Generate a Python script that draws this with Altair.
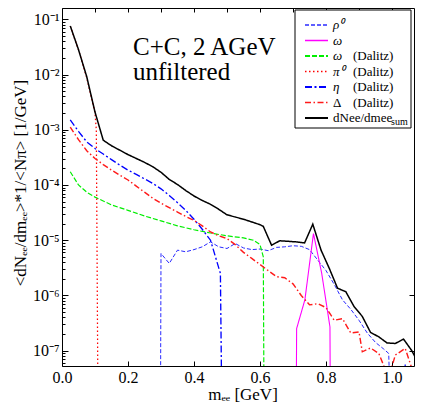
import json
import altair as alt
import pandas as pd

SERIF = "Liberation Serif"

# ---------------- series (legend order) ----------------
names = ["ρ⁰", "ω", "ω (Dalitz)", "π⁰ (Dalitz)", "η (Dalitz)", "Δ (Dalitz)", "dNee/dmee_sum"]
leg_main = ["ρ⁰", "ω", "ω", "π⁰", "η", "Δ", "dNee/dmee"]
leg_suffix = ["", "", "(Dalitz)", "(Dalitz)", "(Dalitz)", "(Dalitz)", ""]
leg_sub = ["", "", "", "", "", "", "sum"]
leg_italic = [True, True, True, True, True, False, False]
colors = ["#2a2aff", "#ff00ff", "#00ee00", "#ff0000", "#0000ff", "#ff1a1a", "#000000"]
dashes = [[4, 2], [1, 0], [5, 2], [1.5, 2.5], [7, 2.5, 2, 2.5], [6, 2.5, 1.5, 2.5], [1, 0]]
widths = [1.0, 1.5, 1.8, 1.6, 1.8, 1.0, 2.0]

# ---------------- data ----------------
rho_x = [0.298, 0.30, 0.325, 0.35, 0.375, 0.4, 0.425, 0.45, 0.475, 0.5, 0.525, 0.55, 0.575,
         0.6, 0.625, 0.65, 0.675, 0.7, 0.725, 0.75, 0.775, 0.8, 0.825, 0.85, 0.875, 0.9,
         0.925, 0.95, 0.975, 0.99, 1.0, 1.03, 1.04, 1.05]
rho_y = [1e-9, 5.75e-6, 3.80e-6, 6.61e-6, 6.17e-6, 6.76e-6, 7.59e-6, 9.33e-6, 7.59e-6, 7.08e-6,
         8.71e-6, 7.24e-6, 6.76e-6, 6.92e-6, 6.46e-6, 7.41e-6, 7.59e-6, 7.94e-6, 7.76e-6, 6.76e-6,
         4.37e-6, 2.82e-6, 1.58e-6, 8.32e-7, 5.62e-7, 3.55e-7, 2.09e-7, 1.41e-7, 1.07e-7, 8.91e-8,
         1e-9, 1e-9, 5.6e-8, 1e-9]

omega_x = [0.709, 0.711, 0.736, 0.762, 0.787, 0.812, 0.814]
omega_y = [1e-9, 2.51e-7, 8.32e-7, 1.32e-5, 2.51e-6, 2.69e-7, 1e-9]

omegad_x = [0.025, 0.05, 0.075, 0.1, 0.125, 0.15, 0.175, 0.2, 0.25, 0.3, 0.35, 0.4, 0.45,
            0.5, 0.55, 0.58, 0.6, 0.61, 0.613]
omegad_y = [1.74e-4, 1.0e-4, 7.41e-5, 6.03e-5, 5.13e-5, 4.37e-5, 3.89e-5, 3.47e-5, 2.75e-5,
            2.24e-5, 1.82e-5, 1.55e-5, 1.35e-5, 1.20e-5, 1.10e-5, 1.0e-5, 8.32e-6, 5.01e-6, 1e-9]

pi0_x = [0.025, 0.05, 0.075, 0.1, 0.104, 0.11]
pi0_y = [7.5e-2, 2.8e-2, 8.7e-3, 2.0e-3, 1.0e-3, 1e-9]

eta_x = [0.025, 0.05, 0.075, 0.1, 0.125, 0.15, 0.175, 0.2, 0.225, 0.25, 0.275, 0.3, 0.325,
         0.35, 0.375, 0.4, 0.425, 0.45, 0.465, 0.475, 0.48, 0.486]
eta_y = [1.51e-3, 9.33e-4, 6.03e-4, 4.57e-4, 3.63e-4, 2.88e-4, 2.29e-4, 1.86e-4, 1.55e-4,
         1.29e-4, 1.07e-4, 8.51e-5, 6.46e-5, 4.79e-5, 3.47e-5, 2.40e-5, 1.58e-5, 1.0e-5,
         5.01e-6, 3.16e-6, 2.51e-6, 1e-9]

delta_x = [0.025, 0.05, 0.075, 0.1, 0.125, 0.15, 0.175, 0.2, 0.225, 0.25, 0.275, 0.3, 0.325,
           0.35, 0.375, 0.4, 0.425, 0.45, 0.475, 0.5, 0.525, 0.55, 0.575, 0.6, 0.625, 0.65,
           0.675, 0.7, 0.725, 0.75, 0.775, 0.8, 0.825, 0.85, 0.875, 0.9, 0.91, 0.935, 0.96,
           0.99, 1.01, 1.04, 1.07]
delta_y = [1.12e-3, 6.61e-4, 4.17e-4, 3.02e-4, 2.34e-4, 1.86e-4, 1.51e-4, 1.23e-4, 9.55e-5,
           7.41e-5, 5.75e-5, 4.68e-5, 3.89e-5, 3.24e-5, 2.69e-5, 2.29e-5, 1.82e-5, 1.41e-5,
           1.20e-5, 1.07e-5, 8.32e-6, 6.03e-6, 4.68e-6, 3.63e-6, 2.82e-6, 2.19e-6, 2.09e-6,
           1.62e-6, 1.0e-6, 6.76e-7, 7.08e-7, 6.03e-7, 3.55e-7, 3.80e-7, 2.09e-7, 2.19e-7,
           9.55e-8, 1.12e-7, 8.91e-8, 3.2e-8, 8.32e-8, 1.10e-7, 3.2e-8]

sum_x = [0.025, 0.05, 0.075, 0.1, 0.125, 0.15, 0.175, 0.2, 0.225, 0.25, 0.275, 0.3, 0.325,
         0.35, 0.375, 0.4, 0.425, 0.45, 0.475, 0.5, 0.525, 0.55, 0.575, 0.6, 0.61, 0.635,
         0.66, 0.685, 0.71, 0.735, 0.76, 0.785, 0.81, 0.835, 0.86, 0.885, 0.91, 0.935, 0.96,
         0.985, 1.01, 1.035, 1.06, 1.085]
sum_y = [7.59e-2, 2.82e-2, 9.12e-3, 2.09e-3, 6.46e-4, 5.13e-4, 4.27e-4, 3.55e-4, 3.02e-4,
         2.57e-4, 2.14e-4, 1.70e-4, 1.26e-4, 1.02e-4, 7.94e-5, 6.31e-5, 5.25e-5, 4.47e-5,
         3.63e-5, 2.88e-5, 2.63e-5, 2.40e-5, 2.14e-5, 1.91e-5, 1.78e-5, 8.13e-6, 9.77e-6,
         9.55e-6, 9.33e-6, 8.91e-6, 1.95e-5, 6.61e-6, 3.09e-6, 1.35e-6, 1.17e-6, 6.31e-7,
         4.17e-7, 2.14e-7, 1.78e-7, 1.38e-7, 1.35e-7, 1.62e-7, 1.0e-7, 5.25e-8]

series_data = [(rho_x, rho_y), (omega_x, omega_y), (omegad_x, omegad_y), (pi0_x, pi0_y),
               (eta_x, eta_y), (delta_x, delta_y), (sum_x, sum_y)]

anno_lines = ["C+C, 2 AGeV", "unfiltered"]
x_title = "mₑₑ [GeV]"
y_title = "<dNₑₑ/dmₑₑ>*1/<Nπ> [1/GeV]"
xlabel_vals = [0.0, 0.2, 0.4, 0.6, 0.8, 1.0]
xtop_vals = [0.0, 0.1, 0.2, 0.3, 0.4, 0.5, 0.6, 0.7, 0.8, 0.9, 1.0]
exp_labels = ["10⁰", "10⁻¹", "10⁻²", "10⁻³", "10⁻⁴", "10⁻⁵", "10⁻⁶", "10⁻⁷", "10⁻⁸"]

# ---------------- layout ----------------
W, H = 352, 358
PX_PER_GEV = 330
XMAX = W / PX_PER_GEV
YMIN, YMAX = 5.28e-8, 0.16

rows = []
for name, (xs, ys) in zip(names, series_data):
    for x, y in zip(xs, ys):
        rows.append({"series": name, "m": x, "v": y})
df = pd.DataFrame(rows)

ytick_vals = []
for e in range(-8, 0):
    for mant in range(1, 10):
        val = float(f"{mant}e{e}")
        if YMIN <= val <= YMAX:
            ytick_vals.append(val)
ymajor_vals = [v for v in ytick_vals if str(v).startswith("1e")]

MAJOR = "abs(log(datum.value)/LN10 - round(log(datum.value)/LN10)) < 0.01"
ylabel_expr = (f"{MAJOR} ? {json.dumps(exp_labels, ensure_ascii=False)}"
               f"[-round(log(datum.value)/LN10)] : ''")

xscale = alt.Scale(domain=[0, XMAX], nice=False, zero=False)
yscale = alt.Scale(type="log", domain=[YMIN, YMAX], nice=False)

axis_bottom = alt.Axis(orient="bottom", values=xlabel_vals, offset=-5, tickSize=5, domain=False,
                       grid=False, tickColor="black", labelExpr="format(datum.value, '.1f')",
                       labelFlush=False, labelOverlap=False, labelPadding=3, labelFont=SERIF,
                       labelFontSize=16, labelColor="black", title=None)
axis_left = alt.Axis(orient="left", values=ytick_vals, offset=-6, tickSize=6, domain=False,
                     grid=False, tickColor="black",
                     tickDash={"condition": {"test": MAJOR, "value": [6, 0]}, "value": [0, 3, 3]},
                     labelExpr=ylabel_expr, labelOverlap=False, labelPadding=3, labelFont=SERIF,
                     labelFontSize=16, labelColor="black", title=None)
axis_top = alt.Axis(orient="top", values=xtop_vals, offset=-4, tickSize=4, domain=False,
                    grid=False, tickColor="black", labels=False, title=None)
axis_right = alt.Axis(orient="right", values=ymajor_vals, offset=-5, tickSize=5, domain=False,
                      grid=False, tickColor="black", labels=False, title=None)

lines = alt.Chart(df).mark_line(clip=True).encode(
    x=alt.X("m:Q", scale=xscale, axis=axis_bottom),
    y=alt.Y("v:Q", scale=yscale, axis=axis_left),
    color=alt.Color("series:N", scale=alt.Scale(domain=names, range=colors), legend=None),
    strokeDash=alt.StrokeDash("series:N", scale=alt.Scale(domain=names, range=dashes), legend=None),
    strokeWidth=alt.StrokeWidth("series:N", scale=alt.Scale(domain=names, range=widths), legend=None),
)

frame = alt.Chart(df).mark_point(opacity=0).encode(
    x=alt.X("m:Q", axis=axis_top),
    y=alt.Y("v:Q", axis=axis_right),
)

one = pd.DataFrame({"k": [0]})
ann_layers = []
for j, line in enumerate(anno_lines):
    ann_layers.append(alt.Chart(one).mark_text(
        text=line, align="left", baseline="alphabetic", font=SERIF, fontSize=25,
        color="black").encode(x=alt.value(71), y=alt.value(47 + 25 * j)))
ytitle = alt.Chart(one).mark_text(text=y_title, angle=270, align="center", baseline="middle",
                                  font=SERIF, fontSize=17, color="black").encode(
    x=alt.value(-41), y=alt.value(175))
xtitle = alt.Chart(one).mark_text(text=x_title, align="center", baseline="alphabetic",
                                  font=SERIF, fontSize=17, color="black").encode(
    x=alt.value(181), y=alt.value(392))

# ---------------- hand-drawn legend box ----------------
LX0, LX1, LY0, LY1 = 233, 349, 2, 120
SYM0, SYM1, TXT0, SUF0 = 243, 266, 271, 291
ROW0, ROWH = 17, 15.5
legend_layers = [alt.Chart(one).mark_rect(fill="white", stroke="black", strokeWidth=1).encode(
    x=alt.value(LX0), x2=alt.value(LX1), y=alt.value(LY0), y2=alt.value(LY1))]
for i in range(len(names)):
    yy = ROW0 + i * ROWH
    legend_layers.append(alt.Chart(one).mark_rule(
        color=colors[i], strokeDash=dashes[i], strokeWidth=max(widths[i], 1.5)).encode(
        x=alt.value(SYM0), x2=alt.value(SYM1), y=alt.value(yy)))
    legend_layers.append(alt.Chart(one).mark_text(
        text=leg_main[i], align="left", baseline="middle", font=SERIF, fontSize=13,
        fontStyle="italic" if leg_italic[i] else "normal", color="black").encode(
        x=alt.value(TXT0), y=alt.value(yy)))
    if leg_suffix[i]:
        legend_layers.append(alt.Chart(one).mark_text(
            text=leg_suffix[i], align="left", baseline="middle", font=SERIF, fontSize=13,
            color="black").encode(x=alt.value(SUF0), y=alt.value(yy)))
    if leg_sub[i]:
        legend_layers.append(alt.Chart(one).mark_text(
            text=leg_sub[i], align="left", baseline="middle", font=SERIF, fontSize=10,
            color="black").encode(x=alt.value(TXT0 + 58), y=alt.value(yy + 4)))

chart = alt.layer(lines, frame, *ann_layers, ytitle, xtitle, *legend_layers).resolve_axis(
    x="independent", y="independent"
).properties(
    width=W, height=H,
    padding={"left": 54, "top": 0, "right": 1, "bottom": 38},
    autosize=alt.AutoSizeParams(type="none"),
    background="white",
).configure_view(stroke="black", strokeWidth=1)

chart.save("out.html", embed_options={"renderer": "svg", "actions": False})
